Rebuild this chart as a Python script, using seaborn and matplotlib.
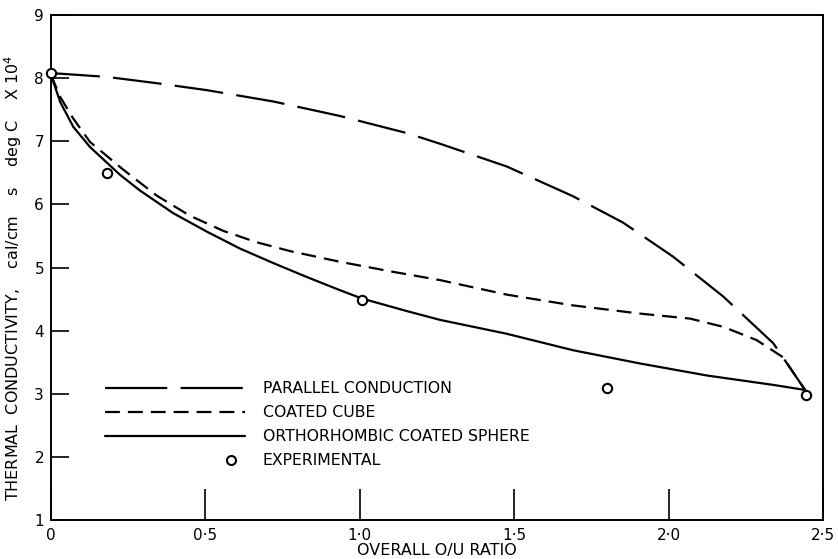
import numpy as np
import pandas as pd
import matplotlib
matplotlib.use("Agg")
import matplotlib.pyplot as plt
import seaborn as sns
from matplotlib.lines import Line2D
from matplotlib.legend_handler import HandlerLine2D

# ---- data ----
par_x = [0.0, 0.18, 0.342, 0.504, 0.72, 0.936, 1.152, 1.26, 1.476, 1.69, 1.853,
         2.015, 2.177, 2.339, 2.442]
par_y = [8.08, 8.02, 7.92, 7.81, 7.63, 7.40, 7.13, 6.96, 6.60, 6.13, 5.71,
         5.17, 4.54, 3.80, 3.06]

cube_x = [0.0, 0.03, 0.072, 0.126, 0.234, 0.342, 0.45, 0.558, 0.666, 0.774,
          0.936, 1.098, 1.26, 1.476, 1.69, 1.907, 2.07, 2.177, 2.285, 2.37, 2.442]
cube_y = [8.05, 7.70, 7.36, 6.99, 6.55, 6.14, 5.82, 5.58, 5.40, 5.26,
          5.09, 4.94, 4.80, 4.57, 4.40, 4.27, 4.19, 4.06, 3.85, 3.58, 3.06]

sph_x = [0.0, 0.03, 0.072, 0.126, 0.223, 0.288, 0.396, 0.504, 0.612, 0.72,
         0.828, 0.936, 1.006, 1.152, 1.26, 1.476, 1.69, 1.907, 2.123, 2.339, 2.442]
sph_y = [8.05, 7.62, 7.23, 6.91, 6.47, 6.22, 5.86, 5.57, 5.30, 5.07,
         4.85, 4.64, 4.51, 4.31, 4.17, 3.95, 3.69, 3.48, 3.29, 3.14, 3.06]

exp_x = [0.0, 0.18, 1.006, 1.80, 2.445]
exp_y = [8.08, 6.49, 4.48, 3.09, 2.98]

series_names = ["PARALLEL CONDUCTION", "COATED CUBE", "ORTHORHOMBIC COATED SPHERE"]
exp_name = "EXPERIMENTAL"

x_ticks = [0, 0.5, 1.0, 1.5, 2.0, 2.5]
x_ticklabels = ["0", "0\u00b75", "1\u00b70", "1\u00b75", "2\u00b70", "2\u00b75"]
y_ticks = [1, 2, 3, 4, 5, 6, 7, 8, 9]
y_ticklabels = ["1", "2", "3", "4", "5", "6", "7", "8", "9"]

xlabel = "OVERALL O/U RATIO"
ylabel = "THERMAL  CONDUCTIVITY,    cal/cm    s    deg C    X 10$^{4}$"

# ---- build table ----
df = pd.concat([
    pd.DataFrame({"x": par_x, "y": par_y, "series": series_names[0]}),
    pd.DataFrame({"x": cube_x, "y": cube_y, "series": series_names[1]}),
    pd.DataFrame({"x": sph_x, "y": sph_y, "series": series_names[2]}),
], ignore_index=True)
df_exp = pd.DataFrame({"x": exp_x, "y": exp_y})

sns.set_theme(style="ticks")
plt.rcParams["font.family"] = ["DejaVu Sans"]
plt.rcParams["text.color"] = "black"
plt.rcParams["axes.labelcolor"] = "black"
plt.rcParams["xtick.color"] = "black"
plt.rcParams["ytick.color"] = "black"

fig = plt.figure(figsize=(8.38, 5.59), dpi=100)
ax = fig.add_axes([51/838, 1 - 520/559, (823 - 51)/838, (520 - 15)/559])

lw = 1.6
dashes = {
    series_names[0]: (22, 6),
    series_names[1]: (6.7, 3.6),
    series_names[2]: "",
}
sns.lineplot(data=df, x="x", y="y", style="series", dashes=dashes,
             color="black", linewidth=lw, estimator=None, sort=False,
             legend=False, ax=ax)
sns.scatterplot(data=df_exp, x="x", y="y", marker="o", s=45,
                facecolor="white", edgecolor="black", linewidth=1.5,
                zorder=5, clip_on=False, ax=ax)

ax.set_xlim(0, 2.5)
ax.set_ylim(1, 9)
ax.set_xticks(x_ticks)
ax.set_xticklabels(x_ticklabels)
ax.set_yticks(y_ticks)
ax.set_yticklabels(y_ticklabels)
ax.tick_params(axis="x", direction="in", length=22, width=1.2, labelsize=11,
               pad=6, colors="black")
ax.tick_params(axis="y", direction="in", length=13, width=1.2, labelsize=11,
               pad=5, colors="black")
for s in ax.spines.values():
    s.set_visible(True)
    s.set_linewidth(1.4)
    s.set_color("black")
ax.set_xlabel(xlabel, fontsize=11.5, labelpad=0)
ax.set_ylabel(ylabel, fontsize=11.5)
ax.yaxis.set_label_coords((24 - 51) / 772, (520 - 278) / 505)


class RightMarker(HandlerLine2D):
    def get_xdata(self, legend, xdescent, ydescent, width, height, fontsize):
        x = -xdescent + 0.9 * width
        return np.array([x]), np.array([x])


handles = [
    Line2D([], [], color="black", lw=lw, dashes=(28, 6)),
    Line2D([], [], color="black", lw=lw, dashes=(6.7, 3.6)),
    Line2D([], [], color="black", lw=lw),
    Line2D([], [], color="black", lw=0, marker="o", markersize=6.5,
           markerfacecolor="white", markeredgecolor="black", markeredgewidth=1.5),
]
labels = series_names + [exp_name]
leg = ax.legend(handles, labels, loc="upper left",
                bbox_to_anchor=((105 - 51) / 772, (520 - 381) / 505),
                frameon=False, fontsize=11.3, handlelength=8.9, handletextpad=1.15,
                labelspacing=0.58, borderaxespad=0, borderpad=0,
                handler_map={handles[3]: RightMarker(numpoints=1)})

fig.savefig("out.png", dpi=100)
